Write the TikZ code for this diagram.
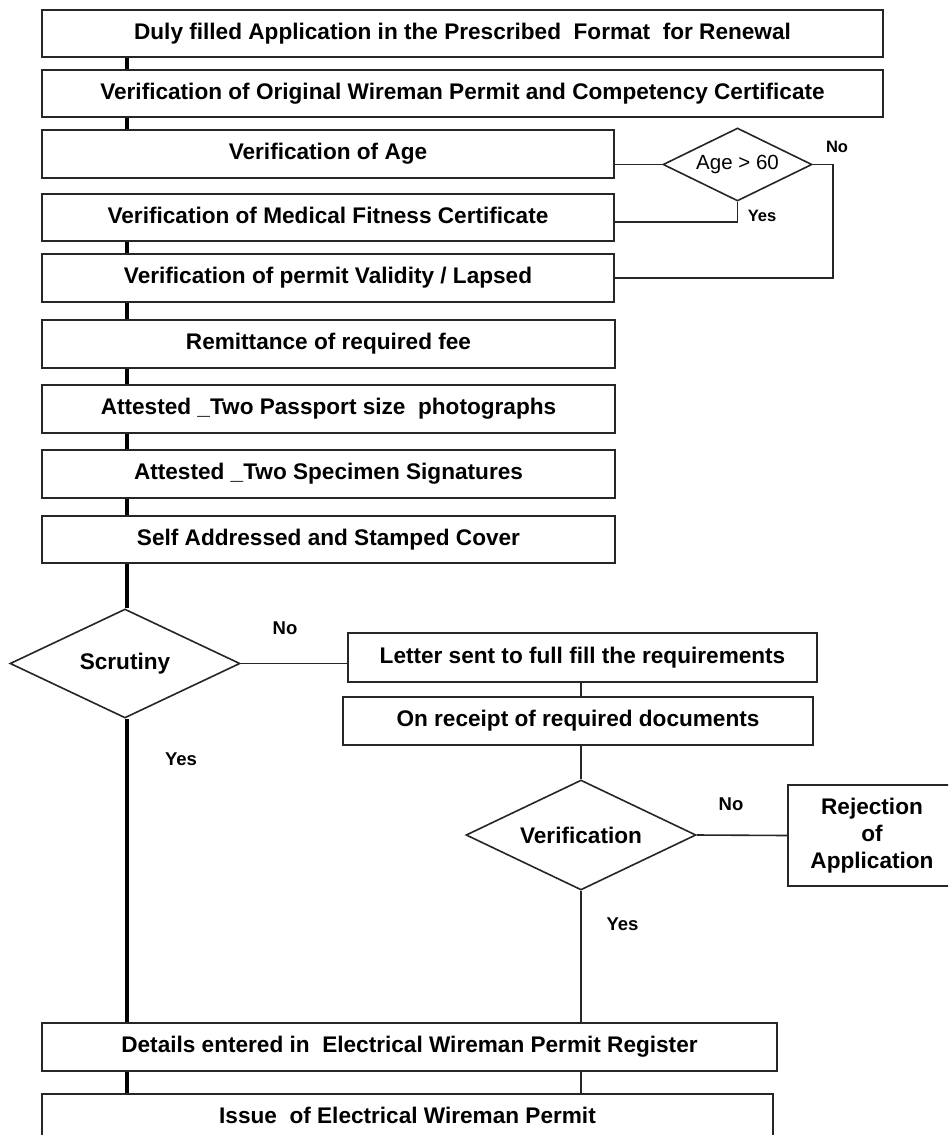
\documentclass[tikz,border=0pt]{standalone}
\usepackage{fontspec}
\setmainfont{Liberation Sans}
\usetikzlibrary{shapes.geometric}
\begin{document}
\begin{tikzpicture}[x=1pt,y=-1pt,
  box/.style={draw=black!85, line width=2pt, inner sep=0pt, text height=16pt, text depth=5pt,
    font=\bfseries\fontsize{22.6}{27}\selectfont},
  rejbox/.style={draw=black!85, line width=1.8pt, inner sep=0pt, align=center,
    font=\bfseries\fontsize{22.6}{27}\selectfont},
  dia/.style={diamond, draw=black!85, line width=1.6pt, inner sep=0pt, aspect=2,
    font=\bfseries\fontsize{22.6}{27}\selectfont},
  spine/.style={line width=4pt, black},
  conn/.style={line width=1.6pt, black!85},
  lab/.style={inner sep=0pt, font=\bfseries\fontsize{18.5}{20}\selectfont},
  smalllab/.style={inner sep=0pt, font=\bfseries\fontsize{16.5}{18}\selectfont}
]
\clip (0,0) rectangle (948,1135);
\useasboundingbox (0,0) rectangle (948,1135);
\fill[white] (0,0) rectangle (948,1135);

\coordinate (sp) at (127,0);
\coordinate (noc) at (833,0);
\coordinate (yes1) at (737.5,222);

\node[box, minimum width=841pt, minimum height=47pt] (b1) at (462.5,33.5) {Duly filled Application in the Prescribed~ Format~ for Renewal};
\node[box, minimum width=841pt, minimum height=47pt] (b2) at (462.5,93.5) {Verification of Original Wireman Permit and Competency Certificate};
\node[box, minimum width=572pt, minimum height=48pt] (b3) at (328,154) {Verification of Age};
\node[box, minimum width=572pt, minimum height=47pt] (b4) at (328,217.5) {Verification of Medical Fitness Certificate};
\node[box, minimum width=572pt, minimum height=48pt] (b5) at (328,278) {Verification of permit Validity / Lapsed};
\node[box, minimum width=573pt, minimum height=48pt] (b6) at (328.5,344) {Remittance of required fee};
\node[box, minimum width=573pt, minimum height=48pt] (b7) at (328.5,409) {Attested \_Two Passport size~ photographs};
\node[box, minimum width=573pt, minimum height=48pt] (b8) at (328.5,474) {Attested \_Two Specimen Signatures};
\node[box, minimum width=573pt, minimum height=47pt] (b9) at (328.5,539.5) {Self Addressed and Stamped Cover};

\node[dia, minimum width=149pt, minimum height=73pt, font=\fontsize{20.5}{22}\selectfont] (age) at (737.5,164.5) {Age > 60};

\node[dia, minimum width=230pt, minimum height=109pt] (scr) at (125,663.5) {Scrutiny};
\node[box, minimum width=469pt, minimum height=49pt, line width=1.6pt] (let) at (582.5,657.5) {Letter sent to full fill the requirements};
\node[box, minimum width=470pt, minimum height=48pt, line width=1.6pt] (rec) at (578,721) {On receipt of required documents};
\node[dia, minimum width=230pt, minimum height=110pt] (ver) at (581,835) {Verification};
\node[rejbox, minimum width=168pt, minimum height=101pt] (rej) at (872,835.5) {Rejection\\of\\Application};

\node[box, minimum width=735pt, minimum height=48pt] (det) at (409.5,1047) {Details entered in~ Electrical Wireman Permit Register};
\node[box, minimum width=731pt, minimum height=47pt] (iss) at (407.5,1117.5) {Issue~ of Electrical Wireman Permit};

% spine
\draw[spine] (b1.south -| sp) -- (b2.north -| sp);
\draw[spine] (b2.south -| sp) -- (b3.north -| sp);
\draw[spine] (b4.south -| sp) -- (b5.north -| sp);
\draw[spine] (b5.south -| sp) -- (b6.north -| sp);
\draw[spine] (b6.south -| sp) -- (b7.north -| sp);
\draw[spine] (b7.south -| sp) -- (b8.north -| sp);
\draw[spine] (b8.south -| sp) -- (b9.north -| sp);
\draw[spine] (b9.south -| sp) -- (scr.north -| sp);
\draw[spine] (scr.south -| sp) -- (det.north -| sp);
\draw[spine] (det.south -| sp) -- (iss.north -| sp);

% age branch
\draw[conn] (age.west -| b3.east) -- (age.west);
\draw[conn] (age.east) -- (age.east -| noc) -- (b5.east -| noc) -- (b5.east);
\draw[conn] (age.south) -- (yes1) -- (yes1 -| b4.east);
\node[smalllab] at (837,147) {No};
\node[smalllab] at (762,215.5) {Yes};

% scrutiny branch
\draw[conn] (scr.east) -- (scr.east -| let.west);
\draw[conn] (let.south -| ver.north) -- (rec.north -| ver.north);
\draw[conn] (rec.south -| ver.north) -- (ver.north);
\draw[conn] (ver.east) -- (rej.west);
\draw[conn] (ver.south) -- (det.north -| ver.south);
\draw[conn] (det.south -| ver.south) -- (iss.north -| ver.south);
\node[lab] at (285,628) {No};
\node[lab] at (181,759) {Yes};
\node[lab] at (731,804) {No};
\node[lab] at (622.5,924) {Yes};
\end{tikzpicture}
\end{document}
